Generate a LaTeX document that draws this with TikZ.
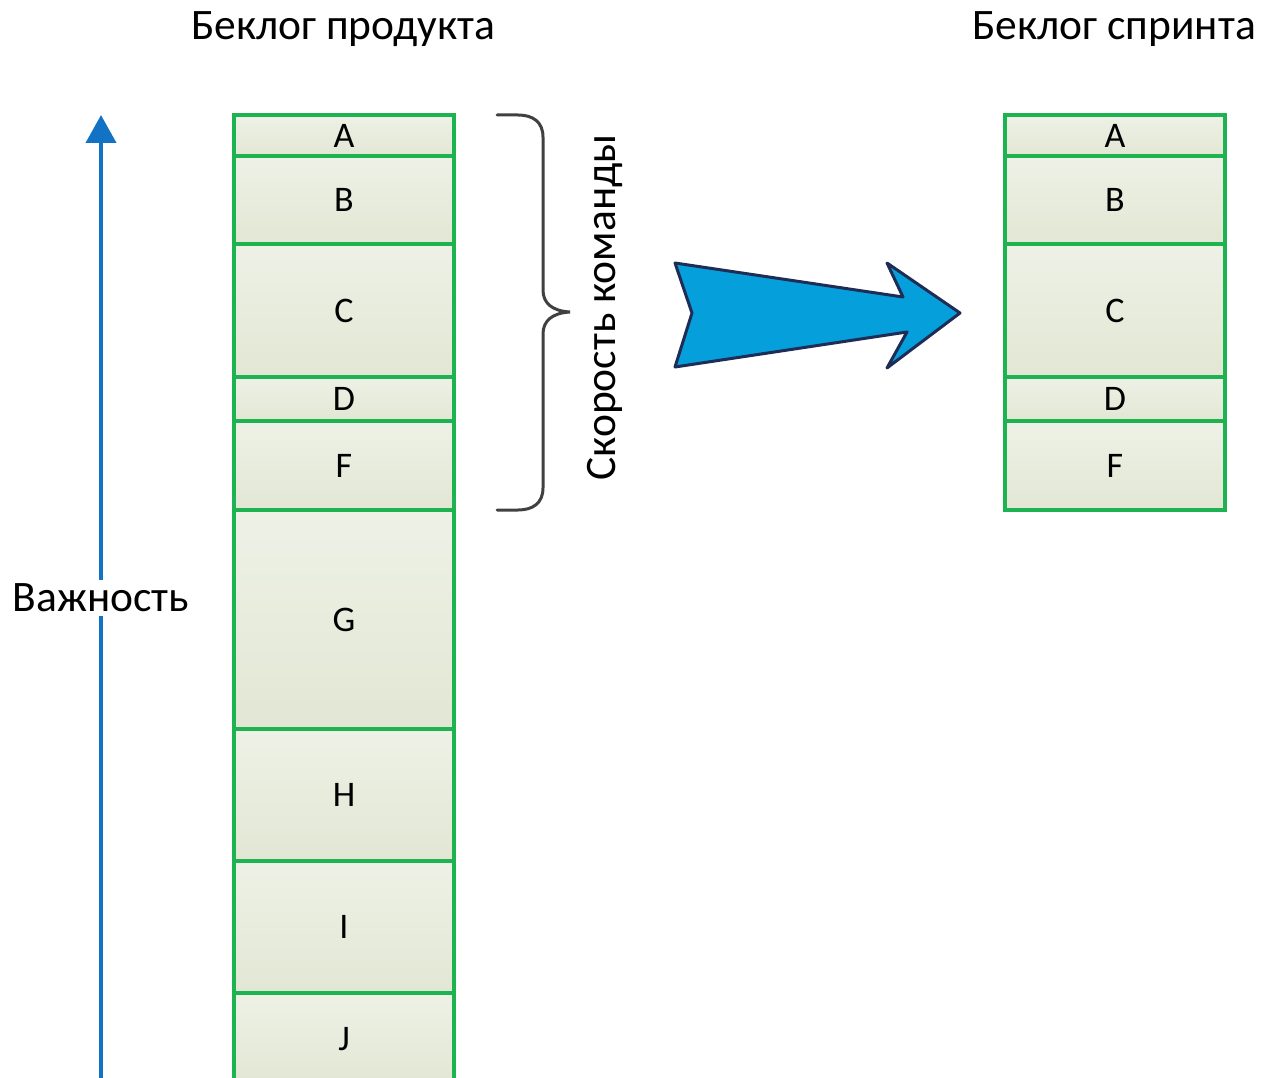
\documentclass[tikz,border=0pt]{standalone}
\usepackage{fontspec}
\setmainfont{Carlito}
\usetikzlibrary{arrows.meta}
\definecolor{rowgreen}{HTML}{1DB350}
\definecolor{rowtop}{HTML}{EEF1E6}
\definecolor{rowbot}{HTML}{E2E7D4}
\definecolor{imptblue}{HTML}{1273C4}
\definecolor{arrowfill}{HTML}{05A0DC}
\definecolor{arrowedge}{HTML}{1E2D55}
\definecolor{bracegray}{HTML}{404040}
\tikzset{
  row/.style={draw=rowgreen, line width=3.5pt, top color=rowtop, bottom color=rowbot,
    minimum width=220pt, inner sep=0pt, font=\fontsize{36}{42}\selectfont},
  title/.style={font=\fontsize{43.5}{50}\selectfont, inner sep=0pt},
  impt/.style={draw=imptblue, line width=4pt},
  bigarrow/.style={fill=arrowfill, draw=arrowedge, line width=3pt, line join=round},
  bracestyle/.style={draw=bracegray, line width=3pt, line cap=round}
}
\begin{document}
\begin{tikzpicture}[x=1pt,y=-1pt]
\useasboundingbox (0,0) rectangle (1263,1078);
% titles
\node[title] (t1) at (343,29) {Беклог продукта};
\node[title] (t2) at (1114,29) {Беклог спринта};
% product backlog
\node[row, minimum height=41pt]  (pA) at (344,135.5) {A};
\node[row, minimum height=88pt]  (pB) at (344,200)   {B};
\node[row, minimum height=133pt] (pC) at (344,310.5) {C};
\node[row, minimum height=44pt]  (pD) at (344,399)   {D};
\node[row, minimum height=89pt]  (pF) at (344,465.5) {F};
\node[row, minimum height=219pt] (pG) at (344,619.5) {G};
\node[row, minimum height=132pt] (pH) at (344,795)   {H};
\node[row, minimum height=132pt] (pI) at (344,927)   {I};
\node[row, minimum height=92pt]  (pJ) at (344,1039)  {J};
% sprint backlog
\node[row, minimum height=41pt]  (sA) at (1115,135.5) {A};
\node[row, minimum height=88pt]  (sB) at (1115,200)   {B};
\node[row, minimum height=133pt] (sC) at (1115,310.5) {C};
\node[row, minimum height=44pt]  (sD) at (1115,399)   {D};
\node[row, minimum height=89pt]  (sF) at (1115,465.5) {F};
% importance arrow
\coordinate (ibot) at (101,1085);
\coordinate (itop) at (101,115);
\draw[impt, -{Triangle[width=30pt,length=28pt]}] (ibot) -- (itop);
\node[title, fill=white, inner sep=4pt] (imp) at (101,598) {Важность};
% brace
\coordinate (bt) at (497,115);
\coordinate (bb) at (497,510);
\coordinate (btip) at (570,312);
\draw[bracestyle] (bt) -- (518,115) .. controls (533,115) and (543,122) .. (543,137)
  -- (543,290) .. controls (543,303) and (552,311) .. (btip)
  .. controls (552,313) and (543,321) .. (543,334)
  -- (543,488) .. controls (543,503) and (533,510) .. (518,510) -- (bb);
\node[title, rotate=90] (vel) at (605,307.5) {Скорость команды};
% big arrow
\draw[bigarrow] (675,263) -- (903,297) -- (887,263) -- (960,313) -- (887,368) -- (907,332) -- (675,367) -- (692,313) -- cycle;
\end{tikzpicture}
\end{document}
